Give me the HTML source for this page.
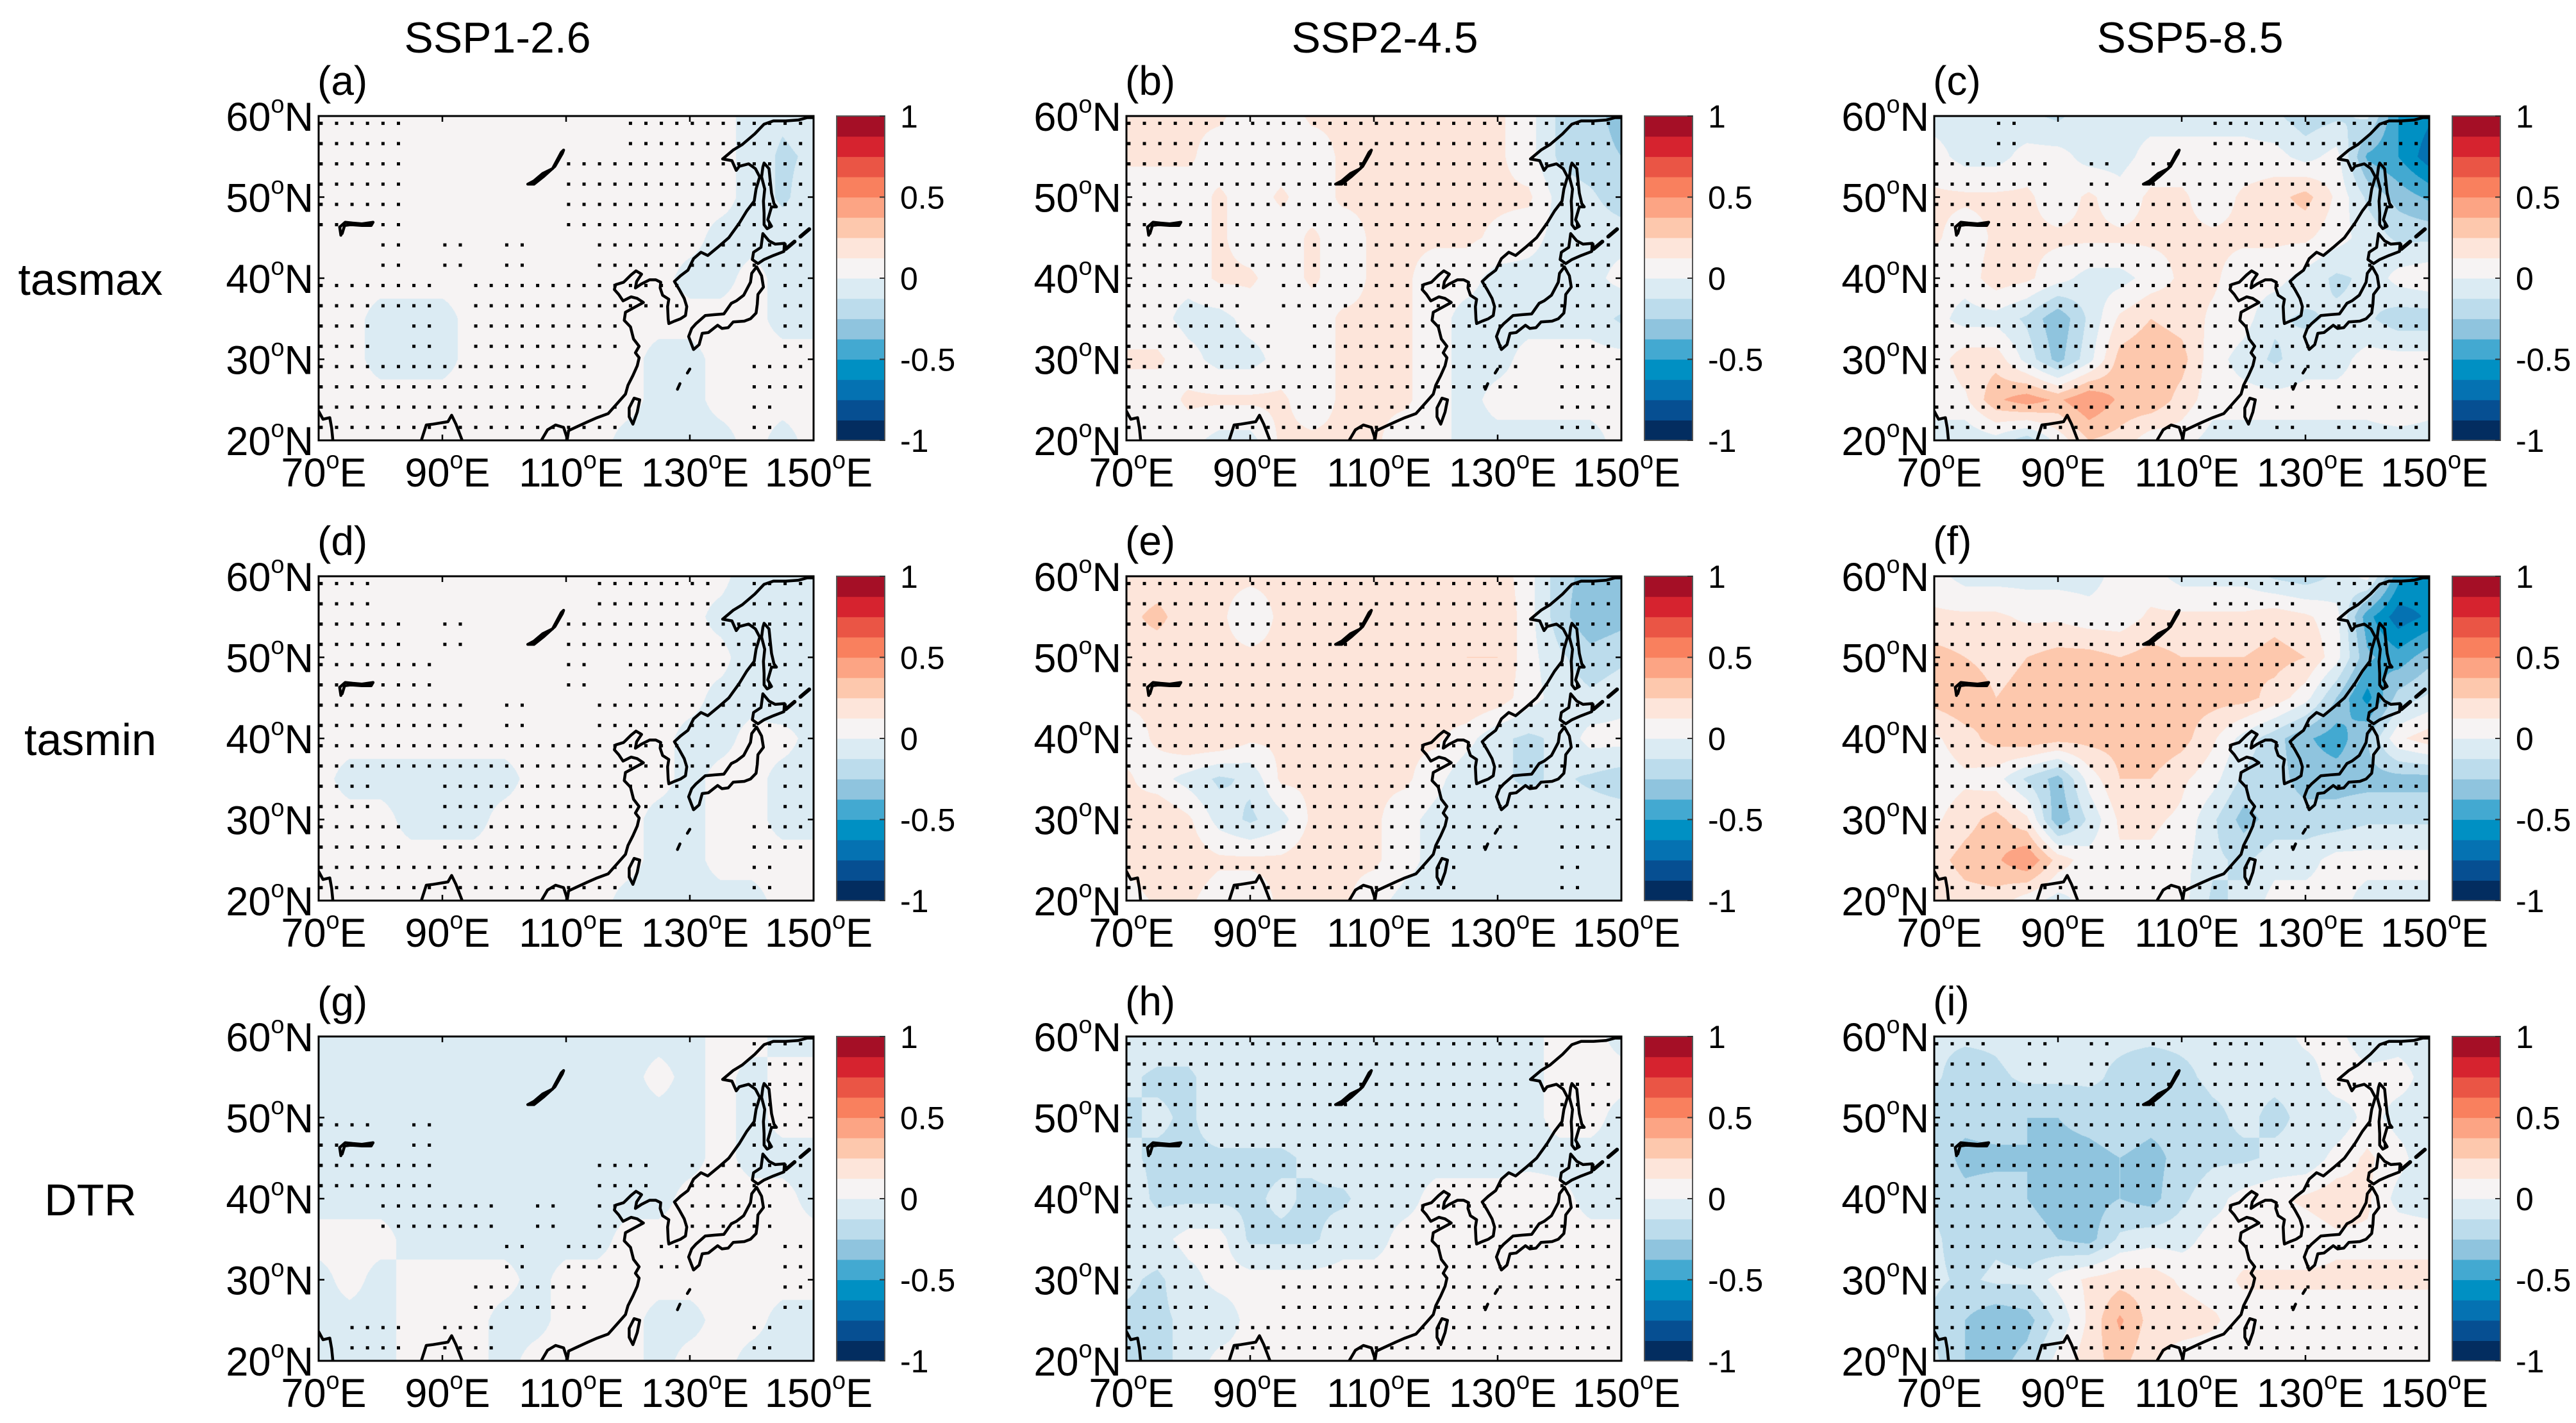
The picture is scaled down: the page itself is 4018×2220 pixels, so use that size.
<!DOCTYPE html>
<html>
<head>
<meta charset="utf-8">
<style>
  html,body{margin:0;padding:0;background:#ffffff;}
  body{width:4018px;height:2220px;position:relative;overflow:hidden;font-family:"Liberation Sans",Arial,sans-serif;}
  canvas{position:absolute;}
  #overlay{position:absolute;left:0;top:0;}
</style>
</head>
<body>
<div id="fields"></div>
<svg id="overlay" width="4018" height="2220" xmlns="http://www.w3.org/2000/svg"></svg>
<script>
// ---------- axis categories / ticks ----------
const lonTicks = [70, 90, 110, 130, 150];
const latTicks = [20, 30, 40, 50, 60];
const cbarTicks = [1, 0.5, 0, -0.5, -1];
const scenarioTitles = ["SSP1-2.6", "SSP2-4.5", "SSP5-8.5"];
const variableNames = ["tasmax", "tasmin", "DTR"];
const panelLetters = ["a","b","c","d","e","f","g","h","i"];
// grid: lat 60..20 step 5 (rows), lon 70..150 step 5 (cols)
const gridLats = [60,55,50,45,40,35,30,25,20];
const gridLons = [70,75,80,85,90,95,100,105,110,115,120,125,130,135,140,145,150];
// colour levels (-1..1, 16 steps)
const levelColors = ['#032d60','#064f92','#0572b2','#0090c3','#43a9d1','#8fc4de','#bcdcec','#dbebf3','#f6f3f3','#fde5da','#fdc8ad','#fca484','#f9805e','#ea5545','#d6232f','#a50f26'];

// ---------- field values ----------
const fieldA = [
[.05,.05,.05,.05,.05,.05,.05,.05,.05,.05,.05,.05,.05,.05,-.05,-.1,-.05],
[.05,.05,.05,.05,.05,.05,.05,.05,.05,.05,.05,.05,.05,.05,-.05,-.15,-.1],
[.05,.05,.05,.05,.05,.05,.05,.05,.05,.05,.05,.05,.05,.05,-.05,-.15,-.05],
[.05,.05,.05,.05,.05,.05,.05,.05,.05,.05,.05,.05,.05,-.05,-.05,-.05,-.05],
[.05,.05,.05,.05,.05,.05,.05,.05,.05,.05,.05,.05,-.05,-.05,.05,-.05,-.05],
[.05,.05,-.05,-.05,-.05,.05,.05,.05,.05,.05,.05,.05,.05,.05,.05,-.05,-.05],
[.05,.05,-.05,-.05,-.05,.05,.05,.05,.05,.05,.05,-.05,-.05,.05,.05,.05,.05],
[.05,.05,.05,.05,.05,.05,.05,.05,.05,.05,.05,-.05,-.05,.05,.05,.05,.05],
[.05,.05,.05,.05,.05,.05,.05,.05,.05,.05,-.05,-.05,-.05,-.05,.05,-.05,.05]];
const fieldB = [
[.15,.15,.15,.15,.05,.05,.15,.15,.15,.15,.15,.15,.15,.05,-.15,-.2,-.3],
[.15,.15,.15,.05,.05,.05,.05,.15,.15,.15,.15,.15,.15,.05,-.15,-.2,-.25],
[.05,.05,.05,.15,.05,.15,.05,.15,.15,.15,.15,.15,.15,.15,-.05,-.1,-.2],
[.05,.05,.05,.15,.05,.05,.15,.05,.15,.15,.15,.15,.1,.05,-.05,-.05,-.05],
[.05,.05,.05,.15,.15,.05,.15,.05,.15,.15,.05,.05,-.05,-.05,-.05,-.05,.05],
[.05,.05,-.05,-.05,.05,.05,.05,.15,.15,.15,.05,-.05,-.05,-.05,-.05,-.05,-.15],
[.15,.15,.05,-.05,-.05,.05,.05,.15,.15,.15,.05,-.05,-.05,.05,.05,.05,.05],
[.05,.05,.15,.15,.15,.15,.05,.15,.15,.15,.05,-.05,.05,.05,.05,.05,.05],
[.05,.05,.05,-.05,-.05,.15,.15,.15,.15,.05,.05,-.05,-.05,-.05,-.05,-.05,.05]];
const fieldC = [
[-.05,-.05,-.05,-.1,-.15,-.05,-.05,-.05,-.05,-.05,-.05,-.1,-.2,-.15,-.1,-.5,-.6],
[.05,-.05,-.05,.05,.05,-.05,-.05,.05,.05,.05,.05,.05,-.05,.05,-.4,-.5,-.7],
[.15,.15,.15,.15,.05,.15,.05,.15,.15,.05,.15,.2,.3,.1,-.15,-.3,-.4],
[.15,.05,.15,.15,.15,.15,.15,.15,.15,.15,.15,.15,.15,.05,-.05,-.15,-.15],
[.05,.05,.2,.15,.05,-.05,-.05,.05,.15,.15,.05,.05,-.05,-.15,-.1,.05,.1],
[.05,-.05,-.05,-.15,-.35,-.1,.15,.25,.2,.1,.05,-.1,-.15,-.1,-.1,-.2,-.2],
[.05,.2,.2,-.05,-.3,-.05,.3,.35,.3,.05,-.05,-.15,-.05,-.05,.05,.05,.05],
[.05,.1,.35,.45,.35,.5,.35,.35,.2,.05,.05,.05,.05,.05,.05,.1,.05],
[-.05,-.1,-.05,-.2,.05,.25,.2,.05,.05,-.05,-.05,-.05,-.05,-.05,-.05,-.05,-.05]];
const fieldD = [
[.05,.05,.05,.05,.05,.05,.05,.05,.05,.05,.05,.05,.05,.05,-.1,-.1,-.1],
[.05,.05,.05,.05,.05,.05,.05,.05,.05,.05,.05,.05,.05,-.05,-.1,-.1,-.1],
[.05,.05,.05,.05,.05,.05,.05,.05,.05,.05,.05,.05,.05,.05,-.1,-.1,-.05],
[.05,.05,.05,.05,.05,.05,.05,.05,.05,.05,.05,.05,.05,-.05,-.05,-.1,-.05],
[.05,.05,.05,.05,.05,.05,.05,.05,.05,.05,.05,.05,-.05,-.05,.05,.05,-.05],
[.05,-.05,-.05,-.05,-.05,-.05,-.05,.05,.05,.05,.05,.05,-.05,.05,.05,-.05,-.05],
[.05,.05,.05,-.05,-.05,-.05,.05,.05,.05,.05,.05,-.05,-.05,.05,.05,-.05,-.05],
[.05,.05,.05,.05,.05,.05,.05,.05,.05,.05,.05,-.05,-.05,.05,.05,.05,.05],
[.05,.05,.05,.05,.05,.05,.05,.05,.05,.05,-.05,-.05,-.05,-.05,-.05,.05,.05]];
const fieldE = [
[.15,.15,.15,.15,.15,.15,.15,.15,.15,.15,.15,.15,.2,.05,-.2,-.3,-.35],
[.2,.3,.15,.15,.05,.15,.15,.15,.15,.15,.15,.2,.25,.05,-.2,-.35,-.3],
[.2,.15,.15,.15,.15,.15,.15,.15,.15,.2,.2,.25,.25,.05,-.1,-.2,-.15],
[.15,.15,.2,.25,.25,.2,.15,.15,.15,.15,.2,.25,.2,.05,-.05,-.1,-.05],
[.05,.15,.25,.25,.15,.15,.25,.25,.15,.15,.15,.05,-.1,-.15,-.1,.05,.05],
[.15,.05,-.05,-.15,-.1,.15,.15,.15,.15,.15,.05,-.1,-.1,-.15,-.1,-.15,-.2],
[.15,.25,.15,-.05,-.15,-.05,.15,.15,.15,.05,-.05,-.1,-.05,-.05,-.05,-.05,-.05],
[.15,.25,.2,.15,.15,.15,.2,.15,.15,.05,-.05,-.05,-.05,-.05,-.05,-.05,-.05],
[.05,.15,.15,.05,.05,.15,.15,.15,.05,-.05,-.05,-.05,-.05,-.05,-.05,-.05,-.05]];
const fieldF = [
[.05,-.05,-.05,-.05,-.05,-.05,.05,.05,-.05,-.05,-.05,-.15,-.2,-.1,.05,-.45,-.55],
[.15,.15,.15,.1,.1,.05,.05,.15,.15,.15,.15,.2,.15,.05,-.45,-.7,-.6],
[.3,.25,.2,.25,.3,.3,.25,.3,.25,.25,.25,.3,.25,.05,-.35,-.45,-.3],
[.3,.35,.25,.3,.3,.3,.3,.3,.3,.3,.3,.2,.05,-.25,-.55,-.2,-.1],
[.1,.2,.3,.35,.3,.3,.3,.35,.3,.15,-.05,-.2,-.35,-.45,-.25,.1,.2],
[.05,.1,.05,-.15,-.3,.05,.25,.25,.15,.05,-.15,-.2,-.3,-.3,-.3,-.3,-.3],
[.1,.2,.3,.15,-.35,-.1,.15,.15,.1,-.1,-.3,-.2,-.2,-.2,-.15,-.15,-.15],
[.2,.3,.35,.5,.2,.05,.1,.1,.05,-.1,-.15,-.05,-.05,.05,.05,.05,.05],
[.15,.2,.2,.05,-.05,.05,.1,.05,.05,-.15,-.1,.05,.05,.05,-.05,-.05,-.05]];
const fieldG = [
[-.05,-.05,-.05,-.05,-.05,-.05,-.05,-.05,-.05,-.05,-.05,-.05,-.05,.05,.05,-.05,-.05],
[-.05,-.05,-.05,-.05,-.05,-.05,-.05,-.05,-.05,-.05,-.05,.05,-.05,.05,-.05,.05,.05],
[-.05,-.05,-.05,-.05,-.05,-.05,-.05,-.05,-.05,-.05,-.05,-.05,-.05,.05,-.05,.05,.05],
[-.05,-.05,-.05,-.05,-.05,-.05,-.05,-.05,-.05,-.05,-.05,-.05,-.05,.05,-.05,-.05,-.05],
[-.05,-.05,-.05,-.05,-.05,-.05,-.05,-.05,-.05,-.05,-.05,-.05,.05,.05,.05,.05,-.05],
[.05,.05,.05,-.05,-.05,-.05,-.05,-.05,-.05,-.05,.05,.05,.05,.05,.05,.05,.05],
[-.05,.05,-.05,.05,.05,.05,.05,-.05,.05,.05,.05,.05,.05,.05,.05,.05,.05],
[-.05,-.05,-.05,.05,.05,.05,-.05,-.05,.05,.05,.05,-.05,-.05,.05,.05,-.05,-.05],
[-.05,-.05,-.05,.05,.05,.05,-.05,.05,.05,.05,.05,-.05,.05,.05,-.05,-.05,-.05]];
const fieldH = [
[-.05,-.05,-.05,-.05,-.05,-.05,-.05,-.05,-.05,-.05,-.05,-.05,-.05,-.05,.05,.05,-.05],
[-.1,-.15,-.15,-.05,-.05,-.05,-.05,-.05,-.05,-.05,-.05,-.05,-.05,-.05,.05,.05,.05],
[-.15,-.1,-.15,-.05,-.05,-.05,-.05,-.05,-.05,-.05,-.05,-.05,-.05,-.05,.05,.05,-.05],
[-.1,-.15,-.15,-.15,-.15,-.15,-.1,-.05,-.05,-.05,-.05,-.05,-.05,-.05,-.05,-.05,-.05],
[-.05,-.15,-.15,-.15,-.15,-.1,-.15,-.15,-.05,-.05,.05,.05,.05,.1,.05,-.05,-.05],
[-.05,-.05,.05,.05,-.15,-.15,-.15,-.05,-.05,.05,.05,.05,.05,.05,.05,.05,.05],
[-.1,-.15,-.05,.05,.05,.05,.05,.05,.05,.05,.05,.05,.05,.05,.05,.1,.1],
[-.15,-.15,-.1,-.1,.05,.05,.05,.05,.05,.1,.05,.05,.05,.05,.05,.05,.05],
[-.15,-.15,-.1,.05,.05,.05,.05,.05,.05,.05,.05,.05,.05,.05,.05,.05,.05]];
const fieldI = [
[-.1,-.1,-.1,-.05,-.1,-.1,-.1,-.1,-.1,-.1,-.1,-.1,.05,.05,-.1,-.05,-.05],
[-.1,-.2,-.15,-.1,-.1,-.1,-.15,-.2,-.15,-.1,-.1,-.1,-.1,.1,.05,.05,-.05],
[-.2,-.2,-.15,-.25,-.25,-.2,-.15,-.2,-.2,-.15,-.1,-.15,-.1,-.1,.05,-.05,-.05],
[-.15,-.3,-.3,-.25,-.3,-.3,-.25,-.3,-.2,-.15,-.15,-.1,-.1,.05,.15,.05,-.1],
[-.15,-.2,-.15,-.25,-.3,-.3,-.25,-.3,-.15,-.05,.05,.1,.15,.2,.15,-.05,-.1],
[-.1,-.2,-.15,-.2,-.25,-.3,-.1,-.05,-.05,.05,.05,.05,.05,.1,.1,.1,.1],
[-.1,-.15,-.1,-.1,.05,.15,.2,.2,.1,.05,.15,.15,.15,.15,.15,.15,.15],
[-.15,-.25,-.35,-.3,-.1,.15,.4,.2,.2,.15,.05,.05,.05,.05,.05,.05,.05],
[-.1,-.25,-.3,-.2,.05,.2,.3,.15,.05,.05,.05,.05,.05,.05,.05,.05,.05]];

// ---------- stippling masks (8 rows x 16 cols of 5deg blocks) ----------
const stipA = ["111.......111111","111.....11111111","111.....11111111","..1.1.1..1111111","1111.1111111...1","11.1.11111.....1","111111111.....11","1111111111....1."];
const stipB = ["1111111111111111","1111111111111111","1111111111111111","1111111111111111","1111.11111111.11","11111.1111111.11","1111111111111.11","1111111111....11"];
const stipC = ["..1......1111111","1111.1.111111111","1111111111111111","1111111111111.11","11111.1111111111","1111111111111111","1111111111111111","1111111111.1.111"];
const stipD = ["11.......1111.11","111.1...11111111","1111....1.111111","11111.1..1111111","1111111111111..1","11..11111111...1","111.111111....11","1111111111....1."];
const stipE = ["1111111111111111","1111111111111111","1111111111111111","1111111111111111","1111111111111111","1111111111111111","1111111111111.11","11111111111...1."];
const stipF = [".........111.111","1111111111111111","1111111111111111","1111111111111111","1111111111111111","1111111111111111","1111111111111111","1111111111111111"];
const stipG = ["..............11","..............11","11.1..........11","1111.....11.1111","..1111.1.1..111.","......1.11.1...1",".....1111......1",".11.11........1."];
const stipH = ["11111111111111..","1111111111111.11","1111111111111111","1111111111111111","1111111111111111","1111111111111111","111..11111111111","1111111111111111"];
const stipI = ["11.1.1.1.11.1111","1111111111111111","1111111111111111","1111111111111111","1111111111111111","1111111111111111","1111111111111111","1111111111111111"];

// ---------- coastlines (lon, lat) ----------
const coastMain = [[106,20],[107,21.3],[108.3,21.9],[109.6,21.6],[110.2,20.2],[110.4,21.2],[111.5,21.6],[113.5,22.3],[115,22.8],[116.8,23.3],[118.2,24.5],[119.6,25.7],[120,26.8],[120.8,28],[121.5,29.2],[121.8,30.2],[121.2,30.8],[121.8,31.6],[120.9,32.5],[120.4,34],[119.4,34.8],[119.6,35.8],[120.8,36.3],[122.5,37],[121.5,37.5],[120.5,37.7],[119.2,37.2],[118.5,38],[117.8,38.6],[118,39.2],[119.3,39.5],[120.5,40.4],[121.3,40.9],[122.2,40.5],[121.4,39.6],[121.2,38.8],[122.2,39.3],[123.5,39.8],[124.5,39.8],[125.3,39.5],[125.2,38.8],[125.6,37.9],[126.6,37.4],[126.4,36.5],[126.5,35],[126.6,34.4],[127.5,34.7],[128.5,35],[129.3,35.4],[129.5,36.5],[129.1,37.5],[128.3,38.6],[127.5,39.6],[128.5,40.3],[129.7,41],[130.6,42.4],[131.8,43.2],[132.9,42.8],[134.5,43.8],[136.3,45],[138,46.8],[139.2,48.3],[140.4,49.5],[140.7,51],[141.3,52.5],[140.6,53.5],[139.5,54.1],[138,53.8],[137.5,53.3],[136.8,54.5],[135.3,54.7],[137,55.8],[138.5,56.5],[140.5,57.8],[142,59],[143.5,59.4],[145.5,59.4],[147.5,59.5],[149,59.8],[150,59.8]];
const coastSakhalin = [[142,54.2],[142.8,53.5],[143,52],[143.2,50.5],[143.6,49.2],[144,48.8],[143.2,48.8],[142.6,47.2],[143.2,46.4],[142.5,46.1],[142,46.6],[142,48],[141.9,49.5],[142.1,51],[141.6,52.5],[141.8,53.7],[142,54.2]];
const coastHokkaido = [[141.8,45.5],[142.8,44.6],[143.8,44.2],[145.3,44.3],[145.2,43.3],[143.5,42.8],[142,42.3],[141,41.8],[140.1,42.3],[140.3,43.2],[141.5,43.8],[141.8,45.5]];
const coastHonshu = [[140.8,41.4],[141.6,40.3],[141.9,38.9],[141,38],[140.9,36.8],[140.7,35.7],[139.8,35],[138.8,34.7],[137,34.6],[136.2,33.9],[135.2,33.8],[134.5,34.2],[133,33.3],[132,33.2],[131.5,31.8],[130.6,31.2],[130.3,31.8],[129.8,32.8],[130.3,33.8],[131,34.4],[132.5,35.4],[134,35.5],[135.5,35.6],[136.7,36.9],[137.5,37.2],[138.7,37.9],[139.8,39.5],[140,40.6],[140.8,41.4]];
const coastTaiwan = [[121,25.2],[121.9,25],[121.5,23.5],[120.8,22],[120.2,22.9],[120.2,24],[121,25.2]];
const lakeBaikal = [[103.8,51.6],[104.8,51.6],[106.3,52.5],[108.2,53.8],[109.4,55.4],[109.6,55.8],[109.2,55.5],[107.8,53.5],[106.2,52.9],[104.8,52],[103.8,51.6]];
const lakeBalkhash = [[73.6,45.3],[73.4,46.3],[74.3,46.9],[75.5,46.8],[77,46.7],[78.8,46.9],[78.5,46.5],[77,46.5],[75.2,46.6],[74.2,46.5],[73.8,45.5]];
const coastIndia = [[70,23.6],[70.7,22.6],[71.8,22.8],[72.1,21.5],[72.3,20]];
const coastBengal = [[86.6,20],[87.4,21.9],[88.5,22],[90.9,22.3],[91.5,23.1],[92.2,22],[93.2,20]];
const kurilDash = [[145.5,43.6],[150,46.5]];
const ryukyu1 = [[129.6,28.3],[130,28.8]];
const ryukyu2 = [[128,26.3],[128.4,27]];

// ---------- layout ----------
const colLeft = [497, 1757, 3017];
const rowTop = [181, 899, 1617];
const PW = 772, PH = 506;
const svgNS = "http://www.w3.org/2000/svg";
const svg = document.getElementById('overlay');
const fieldsDiv = document.getElementById('fields');

const fields = [fieldA,fieldB,fieldC,fieldD,fieldE,fieldF,fieldG,fieldH,fieldI];
const stips = [stipA,stipB,stipC,stipD,stipE,stipF,stipG,stipH,stipI];

function xScale(lon, L){ return L + (lon-70)/80*PW; }
function yScale(lat, T){ return T + (60-lat)/40*PH; }
function levelIndex(v){ let k=Math.floor((v+1)/0.125); return Math.max(0,Math.min(15,k)); }
function hexToRgb(h){ return [parseInt(h.slice(1,3),16),parseInt(h.slice(3,5),16),parseInt(h.slice(5,7),16)]; }
const rgbLevels = levelColors.map(hexToRgb);

function mk(tag, attrs, parent){
  const e=document.createElementNS(svgNS,tag);
  for(const k in attrs) e.setAttribute(k,attrs[k]);
  (parent||svg).appendChild(e); return e;
}

function drawField(grid, L, T, name){
  const c=document.createElement('canvas');
  c.width=PW; c.height=PH;
  c.style.left=L+'px'; c.style.top=T+'px';
  
  
  fieldsDiv.appendChild(c);
  const ctx=c.getContext('2d');
  const img=ctx.createImageData(PW,PH);
  const nr=gridLats.length, nc=gridLons.length;
  for(let y=0;y<PH;y++){
    const lat=60-(y+0.5)/PH*40;
    let fi=(60-lat)/5; let i0=Math.min(nr-2,Math.floor(fi)); let ti=fi-i0;
    for(let x=0;x<PW;x++){
      const lon=70+(x+0.5)/PW*80;
      let fj=(lon-70)/5; let j0=Math.min(nc-2,Math.floor(fj)); let tj=fj-j0;
      const v=(grid[i0][j0]*(1-tj)+grid[i0][j0+1]*tj)*(1-ti)+(grid[i0+1][j0]*(1-tj)+grid[i0+1][j0+1]*tj)*ti;
      const col=rgbLevels[levelIndex(v)];
      const p=(y*PW+x)*4;
      img.data[p]=col[0];img.data[p+1]=col[1];img.data[p+2]=col[2];img.data[p+3]=255;
    }
  }
  ctx.putImageData(img,0,0);
}

function lineD(pts, L, T, close){
  return pts.map((p,i)=>(i?'L':'M')+xScale(p[0],L).toFixed(1)+' '+yScale(p[1],T).toFixed(1)).join(' ')+(close?' Z':'');
}

function degLabel(parent, x, y, num, hemi, anchor, fs, name){
  const t=mk('text',{x:x,y:y,'font-size':fs,'text-anchor':anchor,'font-family':'"Liberation Sans", Arial, sans-serif',fill:'#000'},parent);
  
  
  const a=mk('tspan',{},t); a.textContent=num;
  const o=mk('tspan',{'font-size':fs*0.6,dy:-fs*0.45},t); o.textContent='o';
  const h=mk('tspan',{dy:fs*0.45},t); h.textContent=hemi;
  return t;
}

// column titles and row labels
const titleX=[776,2160,3416];
scenarioTitles.forEach((s,i)=>{
  const t=mk('text',{x:titleX[i],y:82,'font-size':68,'text-anchor':'middle',fill:'#000'});
  
  
  t.textContent=s;
});
const rowLabelY=[460,1178,1896];
variableNames.forEach((s,i)=>{
  const t=mk('text',{x:141,y:rowLabelY[i],'font-size':70,'text-anchor':'middle',fill:'#000'});
  
  
  t.textContent=s;
});

for(let p=0;p<9;p++){
  const r=Math.floor(p/3), c=p%3;
  const L=colLeft[c], T=rowTop[r];
  const letter=panelLetters[p];
  drawField(fields[p], L, T, 'field-panel-'+letter);
  const g=mk('g',{});
  
  

  // stippling
  let d='';
  const m=stips[p];
  for(let rr=0;rr<8;rr++) for(let cc=0;cc<16;cc++){
    if(m[rr][cc]!=='1') continue;
    for(let a=0;a<2;a++) for(let b=0;b<2;b++){
      const lon=70.4+2.5*(2*cc+b), lat=59.1-2.5*(2*rr+a);
      const x=xScale(lon,L)-2.5, y=yScale(lat,T)-2.5;
      d+='M'+x.toFixed(1)+' '+y.toFixed(1)+'h5v5h-5z';
    }
  }
  const st=mk('path',{d:d,fill:'#000'},g);
  
  

  // coastlines
  const clip='clip'+letter;
  const cp=mk('clipPath',{id:clip},g);
  mk('rect',{x:L,y:T,width:PW,height:PH},cp);
  const cg=mk('g',{'clip-path':'url(#'+clip+')',fill:'none',stroke:'#000','stroke-width':4.5,'stroke-linejoin':'round','stroke-linecap':'round'},g);
  
  
  [[coastMain,false],[coastSakhalin,true],[coastHokkaido,true],[coastHonshu,true],[coastTaiwan,true],[lakeBaikal,true],[lakeBalkhash,false],[coastIndia,false],[coastBengal,false],[ryukyu1,false],[ryukyu2,false]].forEach(([pts,cl])=>{
    mk('path',{d:lineD(pts,L,T,cl)},cg);
  });
  mk('path',{d:lineD(kurilDash,L,T,false),'stroke-dasharray':'18 12','stroke-width':6},cg);

  // axes box + ticks
  const box=mk('rect',{x:L,y:T,width:PW,height:PH,fill:'none',stroke:'#000','stroke-width':3},g);
  
  
  let td='';
  lonTicks.forEach(v=>{const x=xScale(v,L); td+=`M${x} ${T}v9M${x} ${T+PH}v-9`;});
  latTicks.forEach(v=>{const y=yScale(v,T); td+=`M${L} ${y}h9M${L+PW} ${y}h-9`;});
  const tk=mk('path',{d:td,stroke:'#000','stroke-width':2.5,fill:'none'},g);
  
  

  // tick labels
  latTicks.forEach(v=>{
    degLabel(g, L-8, yScale(v,T)+23, String(v), 'N', 'end', 63, 'lat-label-'+v+'-'+letter);
  });
  lonTicks.forEach(v=>{
    degLabel(g, xScale(v,L)+8, T+PH+72, String(v), 'E', 'middle', 63, 'lon-label-'+v+'-'+letter);
  });

  // panel letter
  const pl=mk('text',{x:L-2,y:T-33,'font-size':64,fill:'#000'},g);
  
  
  pl.textContent='('+letter+')';

  // colorbar
  const cbX=L+808, cbW=75;
  const cb=mk('g',{},g);
  
  
  levelColors.forEach((col,k)=>{
    const y0=T+PH-(k+1)*PH/16;
    mk('rect',{x:cbX,y:y0,width:cbW,height:PH/16+0.6,fill:col},cb);
  });
  mk('rect',{x:cbX,y:T,width:cbW,height:PH,fill:'none',stroke:'#555','stroke-width':2},cb);
  cbarTicks.forEach(v=>{
    const y=T+(1-v)/2*PH;
    mk('path',{d:`M${cbX+cbW} ${y}h-8`,stroke:'#333','stroke-width':2},cb);
    const t=mk('text',{x:cbX+cbW+24,y:y+18,'font-size':50,fill:'#000'},cb);
    
    
    t.textContent=String(v);
  });
}
</script>
</body>
</html>
